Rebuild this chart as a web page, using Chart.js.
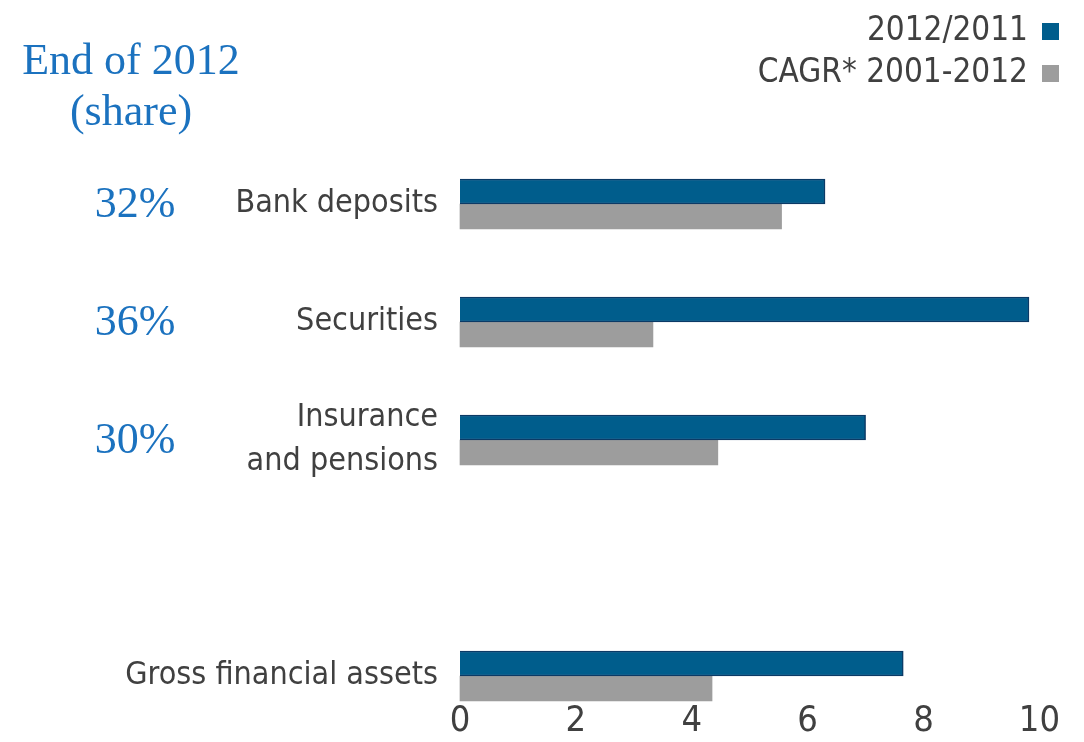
<!DOCTYPE html>
<html>
<head>
<meta charset="utf-8">
<script src="https://cdn.jsdelivr.net/npm/chart.js@4.4.1/dist/chart.umd.min.js"></script>
<style>
  html, body { margin: 0; padding: 0; background: #fff; }
  #wrap { position: relative; width: 1084px; height: 742px; }
</style>
</head>
<body>
<div id="wrap"><canvas id="myBarChart" width="1084" height="742"></canvas></div>
<script>
// categories (blank slot makes the gap before the total)
const categories = ['Bank deposits', 'Securities', ['Insurance', 'and pensions'], '', 'Gross financial assets'];
const growth2012 = [6.3, 9.82, 7.0, null, 7.65];
const cagr2001 = [5.55, 3.33, 4.45, null, 4.35];
const shares = ['32%', '36%', '30%', '', ''];
const xTicks = [0, 2, 4, 6, 8, 10];
const seriesNames = ['2012/2011', 'CAGR* 2001-2012'];
const titleLines = ['End of 2012', '(share)'];

const BLUE = '#005d8c';
const GREY = '#9d9d9d';
const TEXT = '#404040';
const SHARE_BLUE = '#1b72bf';
const labelFont = '"Liberation Sans Narrow", "DejaVu Sans Condensed", sans-serif';
const serifFont = '"Liberation Serif", "DejaVu Serif", serif';

// shares + title + legend drawn straight on the canvas
const sidePlugin = {
    id: 'sideTexts',
    afterDraw(chart) {
        const c = chart.ctx;
        const y = chart.scales.y;
        c.save();
        c.fillStyle = SHARE_BLUE;
        c.font = '44px ' + serifFont;
        c.textAlign = 'center';
        c.textBaseline = 'middle';
        c.fillText(titleLines[0], 131, 62);
        c.fillText(titleLines[1], 131, 113);
        shares.forEach((s, i) => {
            if (s) c.fillText(s, 135, y.getPixelForValue(i) + 1);
        });

        // legend, text right aligned, box on the right
        c.font = '33px ' + labelFont;
        c.textAlign = 'right';
        chart.data.datasets.forEach((ds, i) => {
            const ly = 31 + i * 42;
            c.fillStyle = TEXT;
            c.fillText(ds.label, 1028, ly);
            c.fillStyle = ds.backgroundColor;
            c.fillRect(1042, ly - 8, 17, 17);
        });
        c.restore();
    }
};

function initChart() {
    const ctx = document.getElementById('myBarChart');
    new Chart(ctx, {
        type: 'bar',
        data: {
            labels: categories,
            datasets: [{
                label: seriesNames[0],
                data: growth2012,
                backgroundColor: BLUE,
                borderColor: '#0b3a66',
                borderWidth: 1.5,
                barThickness: 25,
                clip: false
            }, {
                label: seriesNames[1],
                data: cagr2001,
                backgroundColor: GREY,
                borderWidth: 0,
                barThickness: 25,
                clip: false
            }]
        },
        options: {
            indexAxis: 'y',
            responsive: false,
            animation: false,
            layout: { padding: { top: 204, right: 44, left: 0, bottom: 0 } },
            plugins: {
                legend: { display: false },
                tooltip: { enabled: false }
            },
            scales: {
                y: {
                    offset: false,
                    grid: { display: false, drawTicks: false },
                    border: { display: false },
                    ticks: {
                        color: TEXT,
                        padding: 22,
                        font: { family: labelFont, size: 32, lineHeight: 1.375 }
                    },
                    afterFit(scale) { scale.width = 460; }
                },
                x: {
                    min: 0,
                    max: 10,
                    afterBuildTicks(scale) {
                        scale.ticks = xTicks.map(v => ({ value: v }));
                    },
                    grid: { display: false, drawTicks: false },
                    border: { display: false },
                    ticks: {
                        color: TEXT,
                        padding: 24,
                        font: { family: labelFont, size: 36 }
                    },
                    afterFit(scale) { scale.height = 66; }
                }
            }
        },
        plugins: [sidePlugin]
    });
}

if (document.readyState === 'complete') {
    initChart();
} else {
    document.addEventListener('DOMContentLoaded', initChart);
}
</script>
</body>
</html>
